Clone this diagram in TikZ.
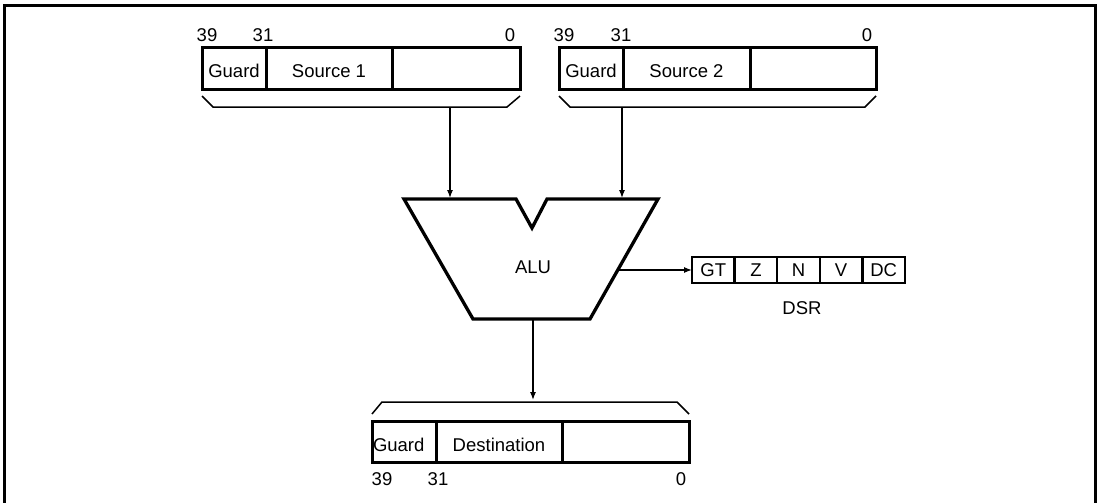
\documentclass[tikz,border=0pt]{standalone}
\usepackage{fontspec}
\setmainfont{Liberation Sans}
\usetikzlibrary{positioning, arrows.meta}
\tikzstyle{cell} = [rectangle, draw=black, line width=3pt, minimum height=41pt, inner sep=0pt, outer sep=0pt, text height=18pt, text depth=0pt, anchor=west]
\tikzstyle{flag} = [rectangle, draw=black, line width=2.4pt, minimum width=42.6pt, minimum height=26pt, inner sep=0pt, outer sep=0pt, anchor=west]
\tikzstyle{bit} = [inner sep=0pt]
\tikzstyle{bracket} = [line width=1.5pt]
\tikzstyle{arrow} = [line width=1.2pt, -{Latex[length=8pt,width=6pt]}]

\begin{document}
\begin{tikzpicture}[x=1pt, y=-1pt, font=\fontsize{18.5}{20}\selectfont]
\useasboundingbox (0,0) rectangle (1100,503);
\draw [line width=3pt] (4,503) -- (4,6) -- (1095,6) -- (1095,503);

% source 1
\node (guard1) [cell, minimum width=64pt] at (202,68.5) {Guard};
\node (src1) [cell, minimum width=126pt, right=0pt of guard1] {Source 1};
\node (low1) [cell, minimum width=128pt, right=0pt of src1] {};
\node (b39a) [bit] at (207,35) {39};
\node (b31a) [bit] at (263,35) {31};
\node (b0a) [bit] at (510,35) {0};
\draw [bracket] (202,96) -- (213,107) -- (507,107) -- (520,96);

% source 2
\node (guard2) [cell, minimum width=64pt] at (559,68.5) {Guard};
\node (src2) [cell, minimum width=127pt, right=0pt of guard2] {Source 2};
\node (low2) [cell, minimum width=126pt, right=0pt of src2] {};
\node (b39b) [bit] at (564,35) {39};
\node (b31b) [bit] at (621,35) {31};
\node (b0b) [bit] at (867,35) {0};
\draw [bracket] (559,96) -- (570,107) -- (865,107) -- (876,96);

% alu
\draw [line width=3.3pt, line join=miter] (404,199) -- (516,199) -- (532,228) -- (547,199) -- (658,199) -- (590,319) -- (473,319) -- cycle;
\node (alu) at (533,267) {ALU};
\coordinate (br1) at (450,107);
\coordinate (in1) at (450,198);
\coordinate (br2) at (622,107);
\coordinate (in2) at (622,198);
\coordinate (flags) at (617,270);
\coordinate (res) at (533,319);

% dsr
\node (gt) [flag] at (692,270) {GT};
\node (z) [flag, right=0pt of gt] {Z};
\node (n) [flag, right=0pt of z] {N};
\node (v) [flag, right=0pt of n] {V};
\node (dc) [flag, right=0pt of v] {DC};
\node (dsr) at (802,308) {DSR};

% destination
\node (guard3) [cell, minimum width=64pt, text width=62pt, inner xsep=1pt, align=left] at (372,442) {Guard};
\node (dst) [cell, minimum width=126pt, right=0pt of guard3] {Destination};
\node (low3) [cell, minimum width=127pt, right=0pt of dst] {};
\node (b39c) [bit] at (382,479) {39};
\node (b31c) [bit] at (438,479) {31};
\node (b0c) [bit] at (681,479) {0};
\draw [bracket] (372,414) -- (382,402) -- (677,402) -- (689,414);
\coordinate (brd) at (533,400);

\draw [arrow] (br1) -- (in1);
\draw [arrow] (br2) -- (in2);
\draw [arrow] (flags) -- (gt.west);
\draw [arrow] (res) -- (brd);

\end{tikzpicture}
\end{document}
